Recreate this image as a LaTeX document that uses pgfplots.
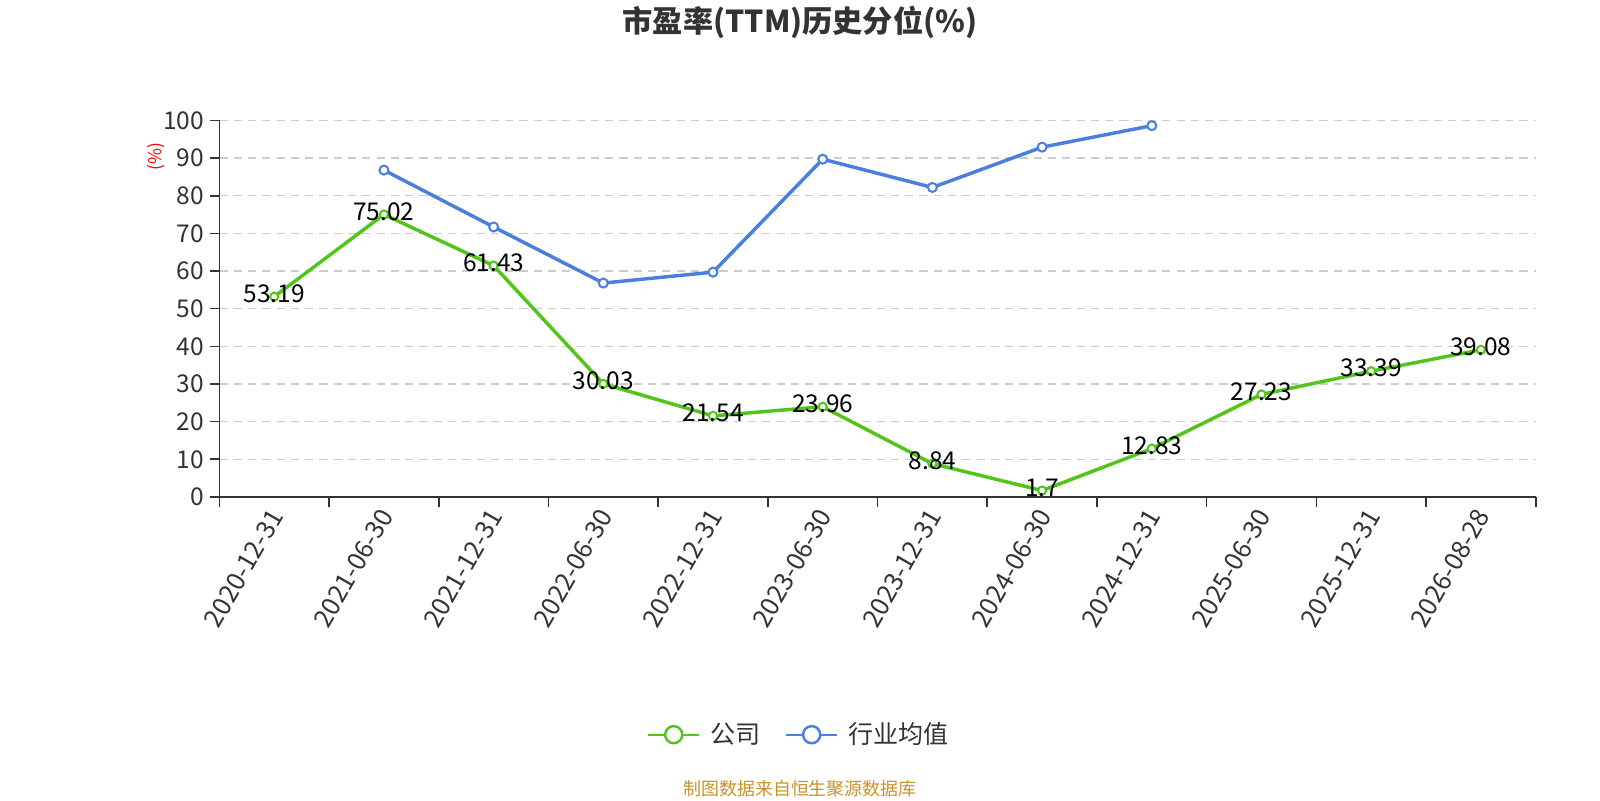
\documentclass[border=0pt]{standalone}
\usepackage{fontspec}
\setmainfont{Noto Sans CJK SC}
\usepackage{pgfplots}
\pgfplotsset{compat=1.18}
\definecolor{cgreen}{HTML}{52C41A}
\definecolor{cblue}{HTML}{4A7FE0}
\definecolor{ctext}{HTML}{333333}
\definecolor{cgrid}{HTML}{CCCCCC}
\definecolor{csrc}{HTML}{C8922B}
\begin{document}
\begin{tikzpicture}
\useasboundingbox (0,0) rectangle (784pt,392pt);
\begin{axis}[
  at={(107.5pt,148.5pt)}, anchor=south west,
  scale only axis, width=645pt, height=184.5pt,
  xmin=-0.5, xmax=11.5, ymin=0, ymax=100,
  axis lines=left,
  axis line style={-, draw=ctext, line width=0.8pt},
  xtick={0,...,11},
  xticklabels={2020-12-31,2021-06-30,2021-12-31,2022-06-30,2022-12-31,2023-06-30,2023-12-31,2024-06-30,2024-12-31,2025-06-30,2025-12-31,2026-08-28},
  minor xtick={-0.5,0.5,...,11.5},
  ytick={0,10,...,100},
  minor ytick={0,10,...,100},
  tick align=outside,
  major tick length=0pt,
  minor tick length=4.8pt,
  tick style={draw=ctext, line width=0.8pt},
  ymajorgrids,
  grid style={dashed, cgrid, line width=0.7pt, dash pattern=on 4pt off 3pt},
  /pgf/number format/.cd, fixed, precision=2, assume math mode=true, /pgfplots/.cd,
  ticklabel style={font=\fontsize{12}{14}\selectfont, text=ctext},
  yticklabel style={xshift=-4pt},
  xticklabel style={rotate=60, anchor=east, font=\fontsize{12.5}{14}\selectfont, yshift=-4.5pt, xshift=-2pt},
  ylabel={(\%)},
  ylabel style={at={(axis description cs:-0.048,0.905)}, anchor=center, rotate=0, font=\fontsize{8.5}{10}\selectfont, text=red},
  legend style={at={(axis description cs:0.4411,-0.6314)}, anchor=center, draw=none, fill=none,
    legend columns=2, font=\fontsize{12.3}{14}\selectfont, text=ctext,
    /tikz/every odd column/.append style={column sep=3pt},
    /tikz/every even column/.append style={column sep=10pt}},
  legend image code/.code={
    \draw[#1, line width=1pt] (0pt,0pt) -- (25pt,0pt);
    \draw[#1, line width=1.2pt, fill=white] (12.5pt,0pt) circle (4.2pt);
  },
]
\addplot[color=cgreen, line width=1.7pt, mark=*, mark size=2pt,
  mark options={fill=white, draw=cgreen, line width=1pt},
  nodes near coords,
  every node near coord/.append style={anchor=center, yshift=1.5pt, font=\fontsize{12}{14}\selectfont, text=black}]
  coordinates {(0,53.19) (1,75.02) (2,61.43) (3,30.03) (4,21.54) (5,23.96) (6,8.84) (7,1.7) (8,12.83) (9,27.23) (10,33.39) (11,39.08)};
\addlegendentry{公司}
\addplot[color=cblue, line width=1.7pt, mark=*, mark size=2.2pt,
  mark options={fill=white, draw=cblue, line width=1pt}]
  coordinates {(1,86.8) (2,71.7) (3,56.8) (4,59.7) (5,89.7) (6,82.2) (7,92.9) (8,98.6)};
\addlegendentry{行业均值}
\end{axis}
\node[font=\bfseries\fontsize{14.8}{18}\selectfont, text=ctext] at (392pt,381pt) {市盈率(TTM)历史分位(\%)};
\node[font=\fontsize{8.8}{10}\selectfont, text=csrc] at (392pt,5.5pt) {制图数据来自恒生聚源数据库};
\end{tikzpicture}
\end{document}
